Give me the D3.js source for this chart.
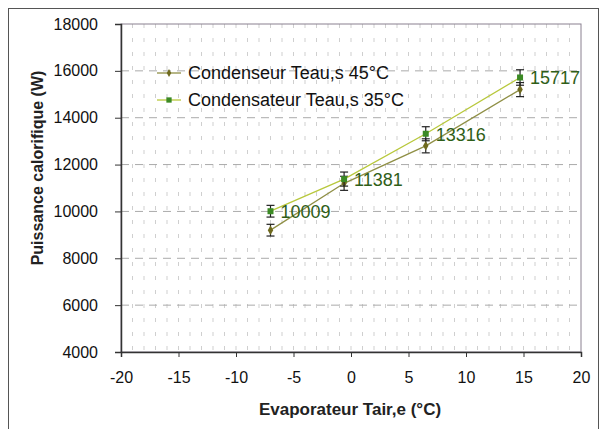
<!DOCTYPE html>
<html>
<head>
<meta charset="utf-8">
<title>Puissance calorifique</title>
<script src="https://d3js.org/d3.v7.min.js"></script>
<style>
  body { margin: 0; background: #fff; }
  text { font-family: "Liberation Sans", Arial, sans-serif; }
</style>
</head>
<body>
<div id="chart"></div>
<script>
// Data
var tempAir = [-7, -0.6, 6.5, 14.7];
var cond45 = [9200, 11200, 12800, 15200];
var err45 = [250, 300, 300, 300];
var cond35 = [10009, 11381, 13316, 15717];
var err35 = [250, 300, 300, 330];
var xTicks = [-20, -15, -10, -5, 0, 5, 10, 15, 20];
var yTicks = [4000, 6000, 8000, 10000, 12000, 14000, 16000, 18000];
var seriesNames = ["Condenseur Teau,s 45°C", "Condensateur Teau,s 35°C"];

var W = 608, H = 429;
var margin = { top: 24, right: 27, bottom: 77, left: 121 };
var width = W - margin.left - margin.right;
var height = H - margin.top - margin.bottom;

var svg = d3.select("#chart").append("svg")
    .attr("width", W).attr("height", H);

// outer frame
svg.append("rect")
    .attr("x", 8.5).attr("y", 8.5)
    .attr("width", 590).attr("height", 440)
    .attr("fill", "none").attr("stroke", "#555").attr("stroke-width", 1);

var g = svg.append("g")
    .attr("transform", "translate(" + margin.left + "," + margin.top + ")");

var x = d3.scaleLinear().domain([-20, 20]).range([0, width]);
var y = d3.scaleLinear().domain([4000, 18000]).range([height, 0]);

// vertical grid, every 1 °C
g.append("g").selectAll("line")
    .data(d3.range(-19, 20, 1))
    .enter().append("line")
    .attr("x1", function(d) { return x(d); })
    .attr("x2", function(d) { return x(d); })
    .attr("y1", 0).attr("y2", height)
    .attr("stroke", "#cfcfcf").attr("stroke-width", 1)
    .attr("stroke-dasharray", "4,10");

// horizontal grid, every 2000 W
g.append("g").selectAll("line")
    .data(yTicks.slice(1, -1))
    .enter().append("line")
    .attr("x1", 0).attr("x2", width)
    .attr("y1", function(d) { return y(d); })
    .attr("y2", function(d) { return y(d); })
    .attr("stroke", "#aaa").attr("stroke-width", 1)
    .attr("stroke-dasharray", "8,6");

// plot border
g.append("rect")
    .attr("x", 0).attr("y", 0).attr("width", width).attr("height", height)
    .attr("fill", "none").attr("stroke", "#8a8090").attr("stroke-width", 1);

// axes
var fmt = function(d) { return String(d); };
var xAxis = g.append("g")
    .attr("transform", "translate(0," + height + ")")
    .call(d3.axisBottom(x).tickValues(xTicks).tickFormat(fmt).tickSize(5).tickPadding(15));
var yAxis = g.append("g")
    .call(d3.axisLeft(y).tickValues(yTicks).tickFormat(fmt).tickSize(6).tickPadding(17));

[xAxis, yAxis].forEach(function(a) {
    a.select(".domain").attr("stroke", "#333").attr("stroke-width", 1.5);
    a.selectAll(".tick line").attr("stroke", "#333");
    a.selectAll(".tick text").attr("font-size", 16).attr("fill", "#111");
});

// axis titles
svg.append("text")
    .attr("x", 350).attr("y", 415)
    .attr("text-anchor", "middle")
    .attr("font-size", 17).attr("font-weight", "bold").attr("fill", "#222")
    .text("Evaporateur Tair,e (°C)");
svg.append("text")
    .attr("transform", "translate(43,168) rotate(-90)")
    .attr("text-anchor", "middle")
    .attr("font-size", 16).attr("font-weight", "bold").attr("fill", "#222")
    .text("Puissance calorifique (W)");

var line = d3.line()
    .x(function(d) { return x(d[0]); })
    .y(function(d) { return y(d[1]); });

var series = [
    { vals: cond45, err: err45, line: "#8f8f45", mark: "#6f6a1e", shape: d3.symbolDiamond, size: 26 },
    { vals: cond35, err: err35, line: "#b8c83c", mark: "#3b8a25", shape: d3.symbolSquare, size: 36 }
];

series.forEach(function(s) {
    var pts = tempAir.map(function(t, i) { return [t, s.vals[i], s.err[i]]; });

    g.append("path").datum(pts)
        .attr("d", line)
        .attr("fill", "none").attr("stroke", s.line).attr("stroke-width", 1.3);

    // error bars
    var eb = g.append("g").selectAll("g").data(pts).enter().append("g")
        .attr("stroke", "#222").attr("stroke-width", 1.2);
    eb.append("line")
        .attr("x1", function(d) { return x(d[0]); })
        .attr("x2", function(d) { return x(d[0]); })
        .attr("y1", function(d) { return y(d[1] - d[2]); })
        .attr("y2", function(d) { return y(d[1] + d[2]); });
    [1, -1].forEach(function(sg) {
        eb.append("line")
            .attr("x1", function(d) { return x(d[0]) - 4; })
            .attr("x2", function(d) { return x(d[0]) + 4; })
            .attr("y1", function(d) { return y(d[1] + sg * d[2]); })
            .attr("y2", function(d) { return y(d[1] + sg * d[2]); });
    });

    g.append("g").selectAll("path").data(pts).enter().append("path")
        .attr("transform", function(d) { return "translate(" + x(d[0]) + "," + y(d[1]) + ")"; })
        .attr("d", d3.symbol().type(s.shape).size(s.size))
        .attr("fill", s.mark);
});

// data labels on the 35 °C series
g.append("g").selectAll("text")
    .data(tempAir.map(function(t, i) { return [t, cond35[i]]; }))
    .enter().append("text")
    .attr("x", function(d) { return x(d[0]) + 10; })
    .attr("y", function(d) { return y(d[1]) + 7; })
    .attr("font-size", 18).attr("fill", "#2f5e18")
    .text(function(d) { return d[1]; });

// legend
var legend = svg.append("g").attr("transform", "translate(157,73)");
series.forEach(function(s, i) {
    var row = legend.append("g").attr("transform", "translate(0," + (i * 27) + ")");
    row.append("line").attr("x1", 0).attr("x2", 24).attr("y1", 0).attr("y2", 0)
        .attr("stroke", s.line).attr("stroke-width", 1.3);
    row.append("path").attr("transform", "translate(12,0)")
        .attr("d", d3.symbol().type(s.shape).size(s.size - 8))
        .attr("fill", s.mark);
    row.append("text").attr("x", 31).attr("y", 6)
        .attr("font-size", 18).attr("fill", "#111")
        .text(seriesNames[i]);
});
</script>
</body>
</html>
